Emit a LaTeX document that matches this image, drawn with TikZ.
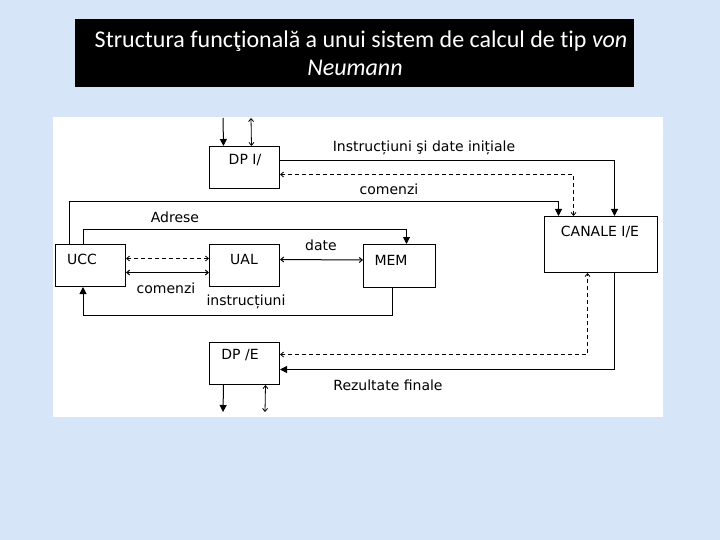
\documentclass[tikz,border=0pt]{standalone}
\usepackage{fontspec}
\setmainfont{DejaVu Sans}
\newfontfamily\titlefont[Ligatures=CommonOff]{Carlito}
\usetikzlibrary{arrows.meta}
\definecolor{bgblue}{RGB}{214,229,247}
\begin{document}
\begin{tikzpicture}[x=1pt,y=-1pt,
  box/.style={draw,line width=1pt,anchor=north west,inner sep=0pt},
  lbl/.style={inner sep=0pt,font=\fontsize{14}{16}\selectfont},
  conn/.style={line width=1pt},
  dsh/.style={line width=0.8pt,dash pattern=on 4pt off 3pt},
  tri/.style={-{Triangle[width=7pt,length=7pt]}},
  thin2/.style={{Straight Barb[length=3pt,width=5pt]}-{Straight Barb[length=3pt,width=5pt]}}
]
\useasboundingbox (0,0) rectangle (720,540);
\fill[bgblue] (0,0) rectangle (720,540);
% title
\fill[black] (75,19) rectangle (634,87);
\node[text=white,inner sep=0pt,font=\titlefont\fontsize{24}{28}\selectfont] (title1) at (361,41) {Structura funcţională a unui sistem de calcul de tip \textit{von}};
\node[text=white,inner sep=0pt,font=\titlefont\fontsize{24}{28}\selectfont] (title2) at (355,68) {\textit{Neumann}};
% panel
\fill[white] (53,117) rectangle (663,417);
% boxes
\node[box,minimum width=70,minimum height=42] (dpi) at (209,146) {};
\node[box,minimum width=70,minimum height=42] (ucc) at (55,244) {};
\node[box,minimum width=70,minimum height=42] (ual) at (209,244) {};
\node[box,minimum width=72,minimum height=43] (mem) at (363,244) {};
\node[box,minimum width=113,minimum height=56] (canale) at (544,216) {};
\node[box,minimum width=70,minimum height=42] (dpe) at (209,342) {};
% box texts
\node[lbl] (tdpi) at (245,160) {DP I/};
\node[lbl] (tucc) at (82,259) {UCC};
\node[lbl] (tual) at (244,259) {UAL};
\node[lbl] (tmem) at (391,260) {MEM};
\node[lbl] (tcan) at (600,232) {CANALE I/E};
\node[lbl] (tdpe) at (240,355) {DP /E};
% labels
\node[lbl] (linstr) at (424,148) {Instrucțiuni şi date inițiale};
\node[lbl] (lcom1) at (389,189) {comenzi};
\node[lbl] (ladr) at (175,217) {Adrese};
\node[lbl] (ldate) at (321,245) {date};
\node[lbl] (lcom2) at (166,288) {comenzi};
\node[lbl] (linstr2) at (246,302) {instrucțiuni};
\node[lbl] (lrez) at (388,385) {Rezultate finale};
% free ends
\coordinate (t1) at (223,118);
\coordinate (t2) at (251,118);
\coordinate (b1) at (223,412);
\coordinate (b2) at (265,412);
% connectors
\draw[conn,tri] (t1) -- ([xshift=-21]dpi.north);
\draw[conn,thin2,line width=0.8pt] (t2) -- ([xshift=7]dpi.north);
\draw[conn,tri] ([yshift=7]dpi.east) -| ([xshift=13.5]canale.north);
\draw[dsh,thin2] ([yshift=-7]dpi.east) -| ([xshift=-27.5]canale.north);
\draw[conn,tri] ([xshift=14]ucc.north west) -- ++(0,-42) -| ([xshift=-42.5]canale.north);
\draw[conn,tri] ([xshift=28]ucc.north west) -- ++(0,-14) -| ([xshift=7]mem.north);
\draw[dsh,thin2] ([yshift=7]ucc.east) -- ([yshift=7]ual.west);
\draw[conn,thin2] ([yshift=-7]ucc.east) -- ([yshift=-7]ual.west);
\draw[conn,thin2] ([yshift=6]ual.east) -- ([yshift=6]mem.west);
\draw[conn,tri] ([xshift=-7]mem.south) -- ++(0,27) -| ([xshift=28]ucc.south west);
\draw[conn,tri] ([xshift=13.5]canale.south) |- ([yshift=-6]dpe.east);
\draw[dsh,thin2] ([yshift=9]dpe.east) -| ([xshift=-13.5]canale.south);
\draw[conn,tri] ([xshift=-21]dpe.south) -- (b1);
\draw[conn,thin2,line width=0.8pt] ([xshift=21]dpe.south) -- (b2);
\end{tikzpicture}
\end{document}
